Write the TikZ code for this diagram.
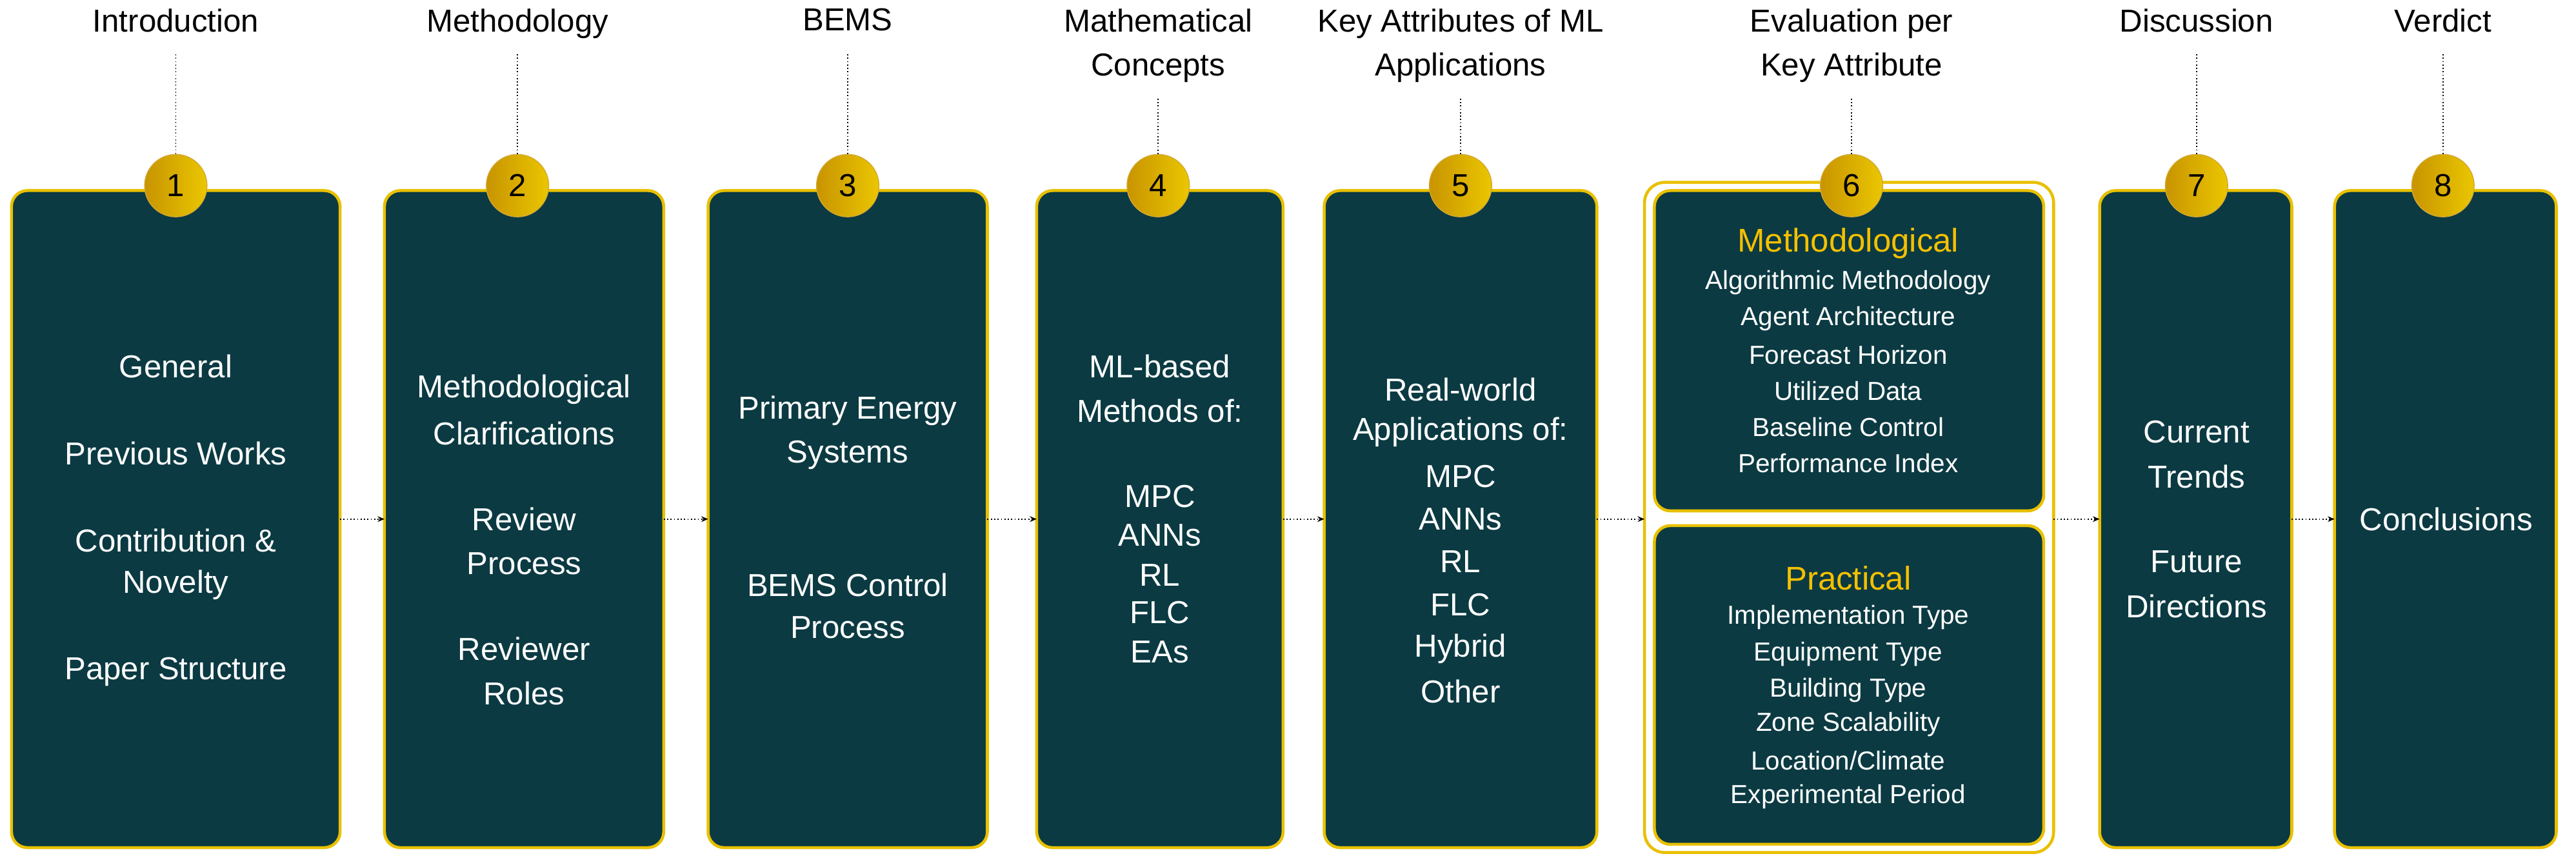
\documentclass[tikz,border=0pt]{standalone}
\usepackage{fontspec}
\setmainfont{Liberation Sans}
\usetikzlibrary{arrows.meta}
\definecolor{boxfill}{HTML}{0B3A42}
\definecolor{gold}{HTML}{E8C000}
\definecolor{golddark}{HTML}{C89400}
\definecolor{headyel}{HTML}{F5C000}
\newcounter{ln}
\newcommand{\BL}[3]{\stepcounter{ln}\node[btxt] (ln\arabic{ln}) at (#1,#2) {#3};}
\newcommand{\SL}[3]{\stepcounter{ln}\node[stxt] (ln\arabic{ln}) at (#1,#2) {#3};}
\begin{document}
\begin{tikzpicture}[x=0.025466cm,y=-0.025466cm,
  box/.style={draw=gold,line width=1.3pt,fill=boxfill,rounded corners=7pt},
  btxt/.style={text=white,font=\fontsize{14}{17}\selectfont,inner sep=0pt,anchor=center},
  stxt/.style={text=white,font=\fontsize{11.5}{14}\selectfont,inner sep=0pt,anchor=center},
  head/.style={text=headyel,font=\fontsize{14.5}{17}\selectfont,inner sep=0pt,anchor=center},
  ttl/.style={text=black,font=\fontsize{14}{19.5}\selectfont,align=center,inner sep=0pt,anchor=north},
  num/.style={circle,minimum size=38*0.7245pt,inner sep=0pt,draw=golddark!80,line width=0.4pt,
    left color=golddark,right color=gold!90!yellow,font=\fontsize{14}{16}\selectfont},
  vline/.style={densely dotted,line width=0.5pt},
  conn/.style={densely dotted,line width=0.5pt,-{Stealth[length=3pt,width=2.5pt]}}]
\useasboundingbox (0,0) rectangle (1568,526.2);
% boxes
\path[box] (7,116) rectangle (207,516); \coordinate (b1) at (107,316);
\path[box] (234,116) rectangle (404,516);
\path[box] (431,116) rectangle (601,516);
\path[box] (631,116) rectangle (781,516);
\path[box] (806,116) rectangle (972,516);
\draw[gold,line width=1.3pt,rounded corners=9pt] (1001,111) rectangle (1250,519);
\path[box] (1007,116) rectangle (1244,311);
\path[box] (1007,320) rectangle (1244,514);
\path[box] (1278,116) rectangle (1395,516);
\path[box] (1421,116) rectangle (1556,516);
% connector anchors
\coordinate (r1) at (207,316); \coordinate (l2) at (234,316);
\coordinate (r2) at (404,316); \coordinate (l3) at (431,316);
\coordinate (r3) at (601,316); \coordinate (l4) at (631,316);
\coordinate (r4) at (781,316); \coordinate (l5) at (806,316);
\coordinate (r5) at (972,316); \coordinate (l6) at (1001,316);
\coordinate (r6) at (1250,316); \coordinate (l7) at (1278,316);
\coordinate (r7) at (1395,316); \coordinate (l8) at (1421,316);
\foreach \a/\b in {r1/l2,r2/l3,r3/l4,r4/l5,r5/l6,r6/l7,r7/l8} \draw[conn] (\a) -- (\b);
% titles, numbers, dotted lines
\foreach \i/\x/\t/\s in {1/107/Introduction/33,2/315/Methodology/33,3/516/BEMS/33,
  4/705/{Mathematical\\Concepts}/60,5/889/{Key Attributes of ML\\Applications}/60,
  6/1127/{Evaluation per\\Key Attribute}/60,7/1337/Discussion/33,8/1487/Verdict/33}{
  \node[ttl] (t\i) at (\x,5) {\t};
  \coordinate (s\i) at (\x,\s);
  \node[num] (n\i) at (\x,113) {\i};
  \draw[vline] (s\i) -- (n\i.north);
}
% box 1
\BL{107}{223}{General}\BL{107}{276}{Previous Works}\BL{107}{329}{Contribution \&}
\BL{107}{356}{Novelty}\BL{107}{409}{Paper Structure}
% box 2
\BL{319}{237}{Methodological}\BL{319}{264}{Clarifications}\BL{319}{316}{Review}
\BL{319}{343}{Process}\BL{319}{395}{Reviewer}\BL{319}{422}{Roles}
% box 3
\BL{516}{250}{Primary Energy}\BL{516}{277}{Systems}\BL{516}{356}{BEMS Control}\BL{516}{382}{Process}
% box 4
\BL{706}{223}{ML-based}\BL{706}{250}{Methods of:}\BL{706}{302}{MPC}\BL{706}{326}{ANNs}
\BL{706}{350}{RL}\BL{706}{373}{FLC}\BL{706}{397}{EAs}
% box 5
\BL{889}{237}{Real-world}\BL{889}{263}{Applications of:}\BL{889}{290}{MPC}\BL{889}{316}{ANNs}
\BL{889}{342}{RL}\BL{889}{368}{FLC}\BL{889}{395}{Hybrid}\BL{889}{421}{Other}
% box 6
\stepcounter{ln}\node[head] (ln\arabic{ln}) at (1125,148) {Methodological};
\SL{1125}{172}{Algorithmic Methodology}\SL{1125}{194}{Agent Architecture}
\SL{1125}{216}{Forecast Horizon}\SL{1125}{238}{Utilized Data}
\SL{1125}{260}{Baseline Control}\SL{1125}{282}{Performance Index}
\stepcounter{ln}\node[head] (ln\arabic{ln}) at (1125,352) {Practical};
\SL{1125}{376}{Implementation Type}\SL{1125}{398}{Equipment Type}
\SL{1125}{420}{Building Type}\SL{1125}{441}{Zone Scalability}
\SL{1125}{463}{Location/Climate}\SL{1125}{485}{Experimental Period}
% box 7
\BL{1337}{263}{Current}\BL{1337}{290}{Trends}\BL{1337}{342}{Future}\BL{1337}{369}{Directions}
% box 8
\BL{1489}{316}{Conclusions}
\end{tikzpicture}
\end{document}
